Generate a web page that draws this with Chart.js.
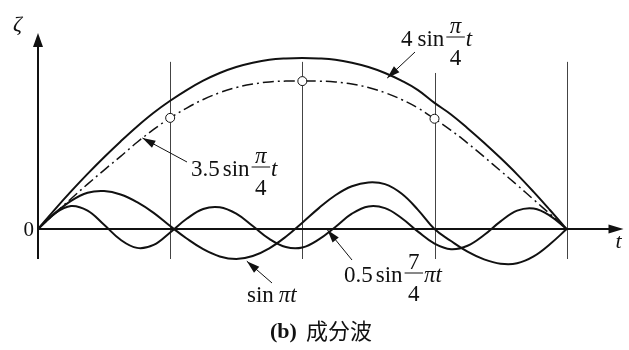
<!DOCTYPE html>
<html>
<head>
<meta charset="utf-8">
<script src="https://cdn.jsdelivr.net/npm/chart.js@4/dist/chart.umd.min.js"></script>
<style>
  html, body { margin: 0; padding: 0; background: #fff; }
  #wrap { width: 629px; height: 350px; }
</style>
</head>
<body>
<div id="wrap"><canvas id="chart" width="629" height="350"></canvas></div>
<script>
// -------------------------------
// DONNEES
// -------------------------------
const tValues = [0, 0.125, 0.25, 0.375, 0.5, 0.625, 0.75, 0.875, 1, 1.125, 1.25, 1.375, 1.5, 1.625, 1.75, 1.875,
                 2, 2.125, 2.25, 2.375, 2.5, 2.625, 2.75, 2.875, 3, 3.125, 3.25, 3.375, 3.5, 3.625, 3.75, 3.875, 4];

// 4 sin(pi/4 t)
const big4 = [0, 0.45, 0.88, 1.29, 1.68, 2.05, 2.40, 2.72, 3.0, 3.25, 3.47, 3.65, 3.79, 3.89, 3.96, 3.99,
              4.0, 3.99, 3.96, 3.89, 3.79, 3.65, 3.47, 3.25, 2.95, 2.68, 2.36, 2.02, 1.66, 1.28, 0.87, 0.44, 0];

// 3.5 sin(pi/4 t)
const big35 = [0, 0.36, 0.71, 1.05, 1.38, 1.70, 2.03, 2.33, 2.6, 2.83, 3.03, 3.19, 3.31, 3.39, 3.44, 3.46,
               3.46, 3.46, 3.44, 3.39, 3.31, 3.19, 3.03, 2.83, 2.58, 2.31, 2.01, 1.69, 1.36, 1.03, 0.69, 0.35, 0];

// sin(pi t)
const sinPi = [0, 0.36, 0.66, 0.85, 0.89, 0.81, 0.63, 0.38, 0.07, -0.22, -0.47, -0.64, -0.70, -0.63, -0.45, -0.18,
               0.15, 0.49, 0.79, 1.00, 1.09, 1.05, 0.83, 0.45, 0.0, -0.28, -0.53, -0.71, -0.81, -0.80, -0.64, -0.35, 0];

// 0.5 sin(7/4 pi t)
const sin74 = [0, 0.36, 0.54, 0.43, 0.10, -0.25, -0.44, -0.37, -0.08, 0.24, 0.47, 0.51, 0.36, 0.07, -0.23, -0.42,
               -0.43, -0.24, 0.05, 0.36, 0.53, 0.49, 0.26, -0.06, -0.34, -0.47, -0.39, -0.14, 0.18, 0.43, 0.48, 0.31, 0];

// petits cercles sur la courbe 3.5 sin
const circleT = [1, 2, 3];
const circleValues = [2.6, 3.46, 2.58];

// traits verticaux
const gridT = [1, 2, 3, 4];

const INK = '#111';
const SERIF = '"Liberation Serif", "DejaVu Serif", serif';
const FS = 23; // taille des formules

function pairs(ys, xs) {
    return ys.map((y, i) => ({ x: (xs || tValues)[i], y: y }));
}

// -------------------------------
// DECORATIONS : axes, fleches, textes
// -------------------------------
function arrowHead(ctx, x1, y1, x2, y2, len, half) {
    const a = Math.atan2(y2 - y1, x2 - x1);
    ctx.beginPath();
    ctx.moveTo(x2, y2);
    ctx.lineTo(x2 - len * Math.cos(a) + half * Math.sin(a), y2 - len * Math.sin(a) - half * Math.cos(a));
    ctx.lineTo(x2 - len * Math.cos(a) - half * Math.sin(a), y2 - len * Math.sin(a) + half * Math.cos(a));
    ctx.closePath();
    ctx.fill();
}

function leader(ctx, x1, y1, x2, y2) {
    ctx.lineWidth = 1;
    ctx.beginPath();
    ctx.moveTo(x1, y1);
    ctx.lineTo(x2, y2);
    ctx.stroke();
    arrowHead(ctx, x1, y1, x2, y2, 13, 4);
}

// dessine une suite de morceaux : {t} texte, {num, den} fraction, {gap}
function mathText(ctx, x, base, parts) {
    ctx.textBaseline = 'alphabetic';
    ctx.textAlign = 'left';
    parts.forEach(p => {
        if (p.gap) { x += p.gap; return; }
        if (p.num) {
            const nf = (p.numItalic ? 'italic ' : '') + FS + 'px ' + SERIF;
            ctx.font = nf;
            const wn = ctx.measureText(p.num).width;
            ctx.font = FS + 'px ' + SERIF;
            const wd = ctx.measureText(p.den).width;
            const w = Math.max(wn, wd) + 7;
            const bar = base - 9;
            ctx.lineWidth = 1;
            ctx.beginPath();
            ctx.moveTo(x, bar);
            ctx.lineTo(x + w, bar);
            ctx.stroke();
            ctx.font = nf;
            ctx.fillText(p.num, x + (w - wn) / 2, bar - 4);
            ctx.font = FS + 'px ' + SERIF;
            ctx.fillText(p.den, x + (w - wd) / 2, bar + 28);
            x += w + 1;
            return;
        }
        ctx.font = (p.i ? 'italic ' : '') + FS + 'px ' + SERIF;
        ctx.fillText(p.t, x, base);
        x += ctx.measureText(p.t).width;
    });
}

const decorPlugin = {
    id: 'decor',
    beforeDatasetsDraw(chart) {
        const ctx = chart.ctx;
        const xs = chart.scales.x, ys = chart.scales.y;
        ctx.save();
        ctx.strokeStyle = '#444';
        ctx.lineWidth = 1;
        const tops = [3.91, 3.91, 3.65, 3.91];
        gridT.forEach((t, i) => {
            const px = Math.round(xs.getPixelForValue(t)) + 0.5;
            ctx.beginPath();
            ctx.moveTo(px, ys.getPixelForValue(tops[i]));
            ctx.lineTo(px, ys.getPixelForValue(-0.70));
            ctx.stroke();
        });

        // axes
        ctx.strokeStyle = INK;
        ctx.fillStyle = INK;
        ctx.lineWidth = 2;
        const x0 = xs.getPixelForValue(0), y0 = ys.getPixelForValue(0);
        const yTop = ys.getPixelForValue(ys.max);
        const xEnd = xs.getPixelForValue(xs.max);
        ctx.beginPath();
        ctx.moveTo(x0, ys.getPixelForValue(-0.70));
        ctx.lineTo(x0, yTop + 10);
        ctx.moveTo(x0, y0);
        ctx.lineTo(xEnd - 10, y0);
        ctx.stroke();
        arrowHead(ctx, x0, y0, x0, yTop, 14, 5);
        arrowHead(ctx, x0, y0, xEnd, y0, 15, 4.5);
        ctx.restore();
    },
    afterDraw(chart) {
        const ctx = chart.ctx;
        const xs = chart.scales.x, ys = chart.scales.y;
        const X = t => xs.getPixelForValue(t), Y = v => ys.getPixelForValue(v);
        ctx.save();
        ctx.fillStyle = INK;
        ctx.strokeStyle = INK;

        // lettres des axes
        ctx.font = 'italic 22px ' + SERIF;
        ctx.textAlign = 'left';
        ctx.textBaseline = 'alphabetic';
        ctx.fillText('ζ', 13, 31);
        ctx.fillText('t', X(xs.max) - 8, Y(0) + 19);
        ctx.font = '21px ' + SERIF;
        ctx.textAlign = 'right';
        ctx.fillText('0', X(0) - 4, Y(0) + 7);

        // 4 sin(pi/4) t
        leader(ctx, 415, 52, X(2.642), Y(3.53));
        mathText(ctx, 401, 46, [{ t: '4' }, { gap: 5 }, { t: 'sin' }, { gap: 2 }, { num: 'π', den: '4', numItalic: true }, { t: 't', i: true }]);

        // 3.5 sin(pi/4) t
        leader(ctx, 187, 162, X(0.79), Y(2.13));
        mathText(ctx, 191, 176, [{ t: '3.5' }, { gap: 3 }, { t: 'sin' }, { gap: 2 }, { num: 'π', den: '4', numItalic: true }, { t: 't', i: true }]);

        // sin pi t
        leader(ctx, 272, 283, X(1.58), Y(-0.75));
        mathText(ctx, 247, 302, [{ t: 'sin' }, { gap: 5 }, { t: 'πt', i: true }]);

        // 0.5 sin(7/4) pi t
        leader(ctx, 352, 260, X(2.19), Y(-0.02));
        mathText(ctx, 344, 282, [{ t: '0.5' }, { gap: 3 }, { t: 'sin' }, { gap: 2 }, { num: '7', den: '4' }, { t: 'πt', i: true }]);

        // legende sous la figure
        ctx.textAlign = 'left';
        ctx.font = 'bold 22px ' + SERIF;
        ctx.fillText('(b)', 270, 338);
        ctx.font = '22px "Noto Sans CJK SC", sans-serif';
        ctx.fillText('成分波', 306, 339);
        ctx.restore();
    }
};

// -------------------------------
// GRAPHIQUE
// -------------------------------
const curveStyle = {
    fill: false,
    pointRadius: 0,
    borderColor: INK,
    borderWidth: 2,
    tension: 0.4,
    clip: false
};

new Chart(document.getElementById('chart').getContext('2d'), {
    type: 'line',
    data: {
        datasets: [
            {
                label: 'cercles',
                data: pairs(circleValues, circleT),
                showLine: false,
                pointRadius: 4.5,
                pointBackgroundColor: '#fff',
                pointBorderColor: INK,
                pointBorderWidth: 1,
                clip: false
            },
            Object.assign({ label: '4 sin π/4 t', data: pairs(big4) }, curveStyle),
            Object.assign({ label: '3.5 sin π/4 t', data: pairs(big35) }, curveStyle, { borderWidth: 1.5, borderDash: [11, 4, 2, 4] }),
            Object.assign({ label: 'sin πt', data: pairs(sinPi) }, curveStyle),
            Object.assign({ label: '0.5 sin 7/4 πt', data: pairs(sin74) }, curveStyle)
        ]
    },
    options: {
        responsive: false,
        animation: false,
        devicePixelRatio: 1,
        layout: { padding: { left: 38, right: 4, top: 33, bottom: 91 } },
        scales: {
            x: { type: 'linear', min: 0, max: 4.43, display: false },
            y: { min: -0.70, max: 4.585, display: false }
        },
        plugins: {
            legend: { display: false },
            tooltip: { enabled: false }
        }
    },
    plugins: [decorPlugin]
});
</script>
</body>
</html>
